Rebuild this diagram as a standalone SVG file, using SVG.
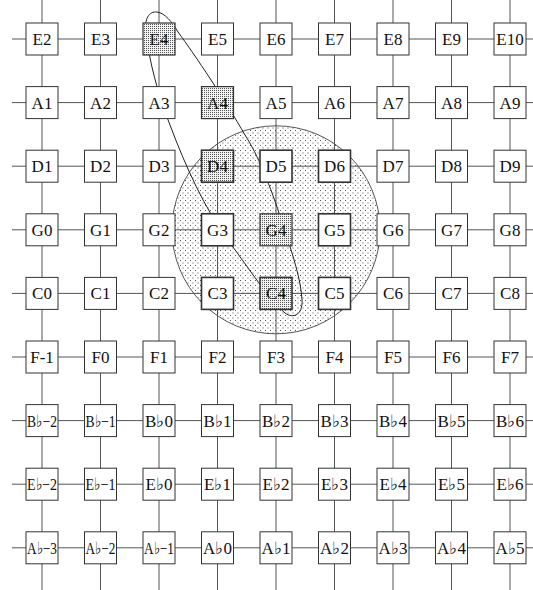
<svg xmlns="http://www.w3.org/2000/svg" width="533" height="590" viewBox="0 0 533 590">
<defs>
<pattern id="sparse" width="5" height="5" patternUnits="userSpaceOnUse">
<rect width="5" height="5" fill="#ffffff"/>
<rect x="0" y="0" width="1" height="1" fill="#555"/>
<rect x="2.5" y="2.5" width="1" height="1" fill="#555"/>
</pattern>
<pattern id="dense" width="2" height="2" patternUnits="userSpaceOnUse">
<rect width="2" height="2" fill="#f2f2f2"/>
<rect x="0" y="0" width="1" height="1" fill="#555"/>
</pattern>
<style>
.ln{stroke:#555;stroke-width:1;fill:none}
.bx{fill:#fff;stroke:#333;stroke-width:1}
.sh{fill:url(#dense);stroke:#333;stroke-width:1.2}
.b{stroke-width:1.6}
.t{font-family:"Liberation Serif","Times New Roman",serif;font-size:17px;fill:#111;text-anchor:middle}
.loop{fill:none;stroke:#222;stroke-width:1}
</style>
</defs>
<rect width="533" height="590" fill="#fff"/>
<g id="region">
<circle cx="276" cy="229.8" r="104" fill="url(#sparse)" stroke="#444" stroke-width="0.9"/>
</g>
<g id="connectors">
<path class="ln" d="M42,0V590M100.5,0V590M159,0V590M217.5,0V590M276,0V590M334.5,0V590M393,0V590M451.5,0V590M510,0V590"/>
<path class="ln" d="M12,39H533M12,102.6H533M12,166.2H533M12,229.8H533M12,293.4H533M12,357H533M12,420.6H533M12,484.2H533M12,547.8H533"/>
</g>
<g id="path-loop">
<path class="loop" d="M157,12 C149,11 144,19 146,33 C149,60 158,95 170,125 C185,165 205,210 230,243 C250,270 268,298 285,313 C293,319 303,315 302,300 C301,280 293,255 282,222 C270,185 258,155 245,135 C225,100 195,55 178,32 C172,22 165,13 157,12 Z"/>
</g>
<g id="nodes">
<g id="E2"><rect class="bx" x="26" y="23" width="32" height="32"/><text class="t" x="42" y="45">E2</text></g>
<g id="E3"><rect class="bx" x="84.5" y="23" width="32" height="32"/><text class="t" x="100.5" y="45">E3</text></g>
<g id="E4"><rect class="sh" x="143" y="23" width="32" height="32"/><text class="t" x="159" y="45">E4</text></g>
<g id="E5"><rect class="bx" x="201.5" y="23" width="32" height="32"/><text class="t" x="217.5" y="45">E5</text></g>
<g id="E6"><rect class="bx" x="260" y="23" width="32" height="32"/><text class="t" x="276" y="45">E6</text></g>
<g id="E7"><rect class="bx" x="318.5" y="23" width="32" height="32"/><text class="t" x="334.5" y="45">E7</text></g>
<g id="E8"><rect class="bx" x="377" y="23" width="32" height="32"/><text class="t" x="393" y="45">E8</text></g>
<g id="E9"><rect class="bx" x="435.5" y="23" width="32" height="32"/><text class="t" x="451.5" y="45">E9</text></g>
<g id="E10"><rect class="bx" x="494" y="23" width="32" height="32"/><text class="t" x="510" y="45">E10</text></g>

<g id="A1"><rect class="bx" x="26" y="86.6" width="32" height="32"/><text class="t" x="42" y="108.6">A1</text></g>
<g id="A2"><rect class="bx" x="84.5" y="86.6" width="32" height="32"/><text class="t" x="100.5" y="108.6">A2</text></g>
<g id="A3"><rect class="bx" x="143" y="86.6" width="32" height="32"/><text class="t" x="159" y="108.6">A3</text></g>
<g id="A4"><rect class="sh" x="201.5" y="86.6" width="32" height="32"/><text class="t" x="217.5" y="108.6">A4</text></g>
<g id="A5"><rect class="bx" x="260" y="86.6" width="32" height="32"/><text class="t" x="276" y="108.6">A5</text></g>
<g id="A6"><rect class="bx" x="318.5" y="86.6" width="32" height="32"/><text class="t" x="334.5" y="108.6">A6</text></g>
<g id="A7"><rect class="bx" x="377" y="86.6" width="32" height="32"/><text class="t" x="393" y="108.6">A7</text></g>
<g id="A8"><rect class="bx" x="435.5" y="86.6" width="32" height="32"/><text class="t" x="451.5" y="108.6">A8</text></g>
<g id="A9"><rect class="bx" x="494" y="86.6" width="32" height="32"/><text class="t" x="510" y="108.6">A9</text></g>

<g id="D1"><rect class="bx" x="26" y="150.2" width="32" height="32"/><text class="t" x="42" y="172.2">D1</text></g>
<g id="D2"><rect class="bx" x="84.5" y="150.2" width="32" height="32"/><text class="t" x="100.5" y="172.2">D2</text></g>
<g id="D3"><rect class="bx" x="143" y="150.2" width="32" height="32"/><text class="t" x="159" y="172.2">D3</text></g>
<g id="D4"><rect class="sh b" x="201.5" y="150.2" width="32" height="32"/><text class="t" x="217.5" y="172.2">D4</text></g>
<g id="D5"><rect class="bx b" x="260" y="150.2" width="32" height="32"/><text class="t" x="276" y="172.2">D5</text></g>
<g id="D6"><rect class="bx b" x="318.5" y="150.2" width="32" height="32"/><text class="t" x="334.5" y="172.2">D6</text></g>
<g id="D7"><rect class="bx" x="377" y="150.2" width="32" height="32"/><text class="t" x="393" y="172.2">D7</text></g>
<g id="D8"><rect class="bx" x="435.5" y="150.2" width="32" height="32"/><text class="t" x="451.5" y="172.2">D8</text></g>
<g id="D9"><rect class="bx" x="494" y="150.2" width="32" height="32"/><text class="t" x="510" y="172.2">D9</text></g>

<g id="G0"><rect class="bx" x="26" y="213.8" width="32" height="32"/><text class="t" x="42" y="235.8">G0</text></g>
<g id="G1"><rect class="bx" x="84.5" y="213.8" width="32" height="32"/><text class="t" x="100.5" y="235.8">G1</text></g>
<g id="G2"><rect class="bx" x="143" y="213.8" width="32" height="32"/><text class="t" x="159" y="235.8">G2</text></g>
<g id="G3"><rect class="bx b" x="201.5" y="213.8" width="32" height="32"/><text class="t" x="217.5" y="235.8">G3</text></g>
<g id="G4"><rect class="sh" x="260" y="213.8" width="32" height="32"/><text class="t" x="276" y="235.8">G4</text></g>
<g id="G5"><rect class="bx b" x="318.5" y="213.8" width="32" height="32"/><text class="t" x="334.5" y="235.8">G5</text></g>
<g id="G6"><rect class="bx" x="377" y="213.8" width="32" height="32"/><text class="t" x="393" y="235.8">G6</text></g>
<g id="G7"><rect class="bx" x="435.5" y="213.8" width="32" height="32"/><text class="t" x="451.5" y="235.8">G7</text></g>
<g id="G8"><rect class="bx" x="494" y="213.8" width="32" height="32"/><text class="t" x="510" y="235.8">G8</text></g>

<g id="C0"><rect class="bx" x="26" y="277.4" width="32" height="32"/><text class="t" x="42" y="299.4">C0</text></g>
<g id="C1"><rect class="bx" x="84.5" y="277.4" width="32" height="32"/><text class="t" x="100.5" y="299.4">C1</text></g>
<g id="C2"><rect class="bx" x="143" y="277.4" width="32" height="32"/><text class="t" x="159" y="299.4">C2</text></g>
<g id="C3"><rect class="bx b" x="201.5" y="277.4" width="32" height="32"/><text class="t" x="217.5" y="299.4">C3</text></g>
<g id="C4"><rect class="sh b" x="260" y="277.4" width="32" height="32"/><text class="t" x="276" y="299.4">C4</text></g>
<g id="C5"><rect class="bx b" x="318.5" y="277.4" width="32" height="32"/><text class="t" x="334.5" y="299.4">C5</text></g>
<g id="C6"><rect class="bx" x="377" y="277.4" width="32" height="32"/><text class="t" x="393" y="299.4">C6</text></g>
<g id="C7"><rect class="bx" x="435.5" y="277.4" width="32" height="32"/><text class="t" x="451.5" y="299.4">C7</text></g>
<g id="C8"><rect class="bx" x="494" y="277.4" width="32" height="32"/><text class="t" x="510" y="299.4">C8</text></g>

<g id="F-1"><rect class="bx" x="26" y="341" width="32" height="32"/><text class="t" x="42" y="363">F-1</text></g>
<g id="F0"><rect class="bx" x="84.5" y="341" width="32" height="32"/><text class="t" x="100.5" y="363">F0</text></g>
<g id="F1"><rect class="bx" x="143" y="341" width="32" height="32"/><text class="t" x="159" y="363">F1</text></g>
<g id="F2"><rect class="bx" x="201.5" y="341" width="32" height="32"/><text class="t" x="217.5" y="363">F2</text></g>
<g id="F3"><rect class="bx" x="260" y="341" width="32" height="32"/><text class="t" x="276" y="363">F3</text></g>
<g id="F4"><rect class="bx" x="318.5" y="341" width="32" height="32"/><text class="t" x="334.5" y="363">F4</text></g>
<g id="F5"><rect class="bx" x="377" y="341" width="32" height="32"/><text class="t" x="393" y="363">F5</text></g>
<g id="F6"><rect class="bx" x="435.5" y="341" width="32" height="32"/><text class="t" x="451.5" y="363">F6</text></g>
<g id="F7"><rect class="bx" x="494" y="341" width="32" height="32"/><text class="t" x="510" y="363">F7</text></g>

<g id="Bb-2"><rect class="bx" x="26" y="404.6" width="32" height="32"/><text class="t" x="42" y="426.6" textLength="30" lengthAdjust="spacingAndGlyphs">B♭−2</text></g>
<g id="Bb-1"><rect class="bx" x="84.5" y="404.6" width="32" height="32"/><text class="t" x="100.5" y="426.6" textLength="30" lengthAdjust="spacingAndGlyphs">B♭−1</text></g>
<g id="Bb0"><rect class="bx" x="143" y="404.6" width="32" height="32"/><text class="t" x="159" y="426.6">B♭0</text></g>
<g id="Bb1"><rect class="bx" x="201.5" y="404.6" width="32" height="32"/><text class="t" x="217.5" y="426.6">B♭1</text></g>
<g id="Bb2"><rect class="bx" x="260" y="404.6" width="32" height="32"/><text class="t" x="276" y="426.6">B♭2</text></g>
<g id="Bb3"><rect class="bx" x="318.5" y="404.6" width="32" height="32"/><text class="t" x="334.5" y="426.6">B♭3</text></g>
<g id="Bb4"><rect class="bx" x="377" y="404.6" width="32" height="32"/><text class="t" x="393" y="426.6">B♭4</text></g>
<g id="Bb5"><rect class="bx" x="435.5" y="404.6" width="32" height="32"/><text class="t" x="451.5" y="426.6">B♭5</text></g>
<g id="Bb6"><rect class="bx" x="494" y="404.6" width="32" height="32"/><text class="t" x="510" y="426.6">B♭6</text></g>

<g id="Eb-2"><rect class="bx" x="26" y="468.2" width="32" height="32"/><text class="t" x="42" y="490.2" textLength="30" lengthAdjust="spacingAndGlyphs">E♭−2</text></g>
<g id="Eb-1"><rect class="bx" x="84.5" y="468.2" width="32" height="32"/><text class="t" x="100.5" y="490.2" textLength="30" lengthAdjust="spacingAndGlyphs">E♭−1</text></g>
<g id="Eb0"><rect class="bx" x="143" y="468.2" width="32" height="32"/><text class="t" x="159" y="490.2">E♭0</text></g>
<g id="Eb1"><rect class="bx" x="201.5" y="468.2" width="32" height="32"/><text class="t" x="217.5" y="490.2">E♭1</text></g>
<g id="Eb2"><rect class="bx" x="260" y="468.2" width="32" height="32"/><text class="t" x="276" y="490.2">E♭2</text></g>
<g id="Eb3"><rect class="bx" x="318.5" y="468.2" width="32" height="32"/><text class="t" x="334.5" y="490.2">E♭3</text></g>
<g id="Eb4"><rect class="bx" x="377" y="468.2" width="32" height="32"/><text class="t" x="393" y="490.2">E♭4</text></g>
<g id="Eb5"><rect class="bx" x="435.5" y="468.2" width="32" height="32"/><text class="t" x="451.5" y="490.2">E♭5</text></g>
<g id="Eb6"><rect class="bx" x="494" y="468.2" width="32" height="32"/><text class="t" x="510" y="490.2">E♭6</text></g>

<g id="Ab-3"><rect class="bx" x="26" y="531.8" width="32" height="32"/><text class="t" x="42" y="553.8" textLength="30" lengthAdjust="spacingAndGlyphs">A♭−3</text></g>
<g id="Ab-2"><rect class="bx" x="84.5" y="531.8" width="32" height="32"/><text class="t" x="100.5" y="553.8" textLength="30" lengthAdjust="spacingAndGlyphs">A♭−2</text></g>
<g id="Ab-1"><rect class="bx" x="143" y="531.8" width="32" height="32"/><text class="t" x="159" y="553.8" textLength="30" lengthAdjust="spacingAndGlyphs">A♭−1</text></g>
<g id="Ab0"><rect class="bx" x="201.5" y="531.8" width="32" height="32"/><text class="t" x="217.5" y="553.8">A♭0</text></g>
<g id="Ab1"><rect class="bx" x="260" y="531.8" width="32" height="32"/><text class="t" x="276" y="553.8">A♭1</text></g>
<g id="Ab2"><rect class="bx" x="318.5" y="531.8" width="32" height="32"/><text class="t" x="334.5" y="553.8">A♭2</text></g>
<g id="Ab3"><rect class="bx" x="377" y="531.8" width="32" height="32"/><text class="t" x="393" y="553.8">A♭3</text></g>
<g id="Ab4"><rect class="bx" x="435.5" y="531.8" width="32" height="32"/><text class="t" x="451.5" y="553.8">A♭4</text></g>
<g id="Ab5"><rect class="bx" x="494" y="531.8" width="32" height="32"/><text class="t" x="510" y="553.8">A♭5</text></g>
</g>
</svg>
